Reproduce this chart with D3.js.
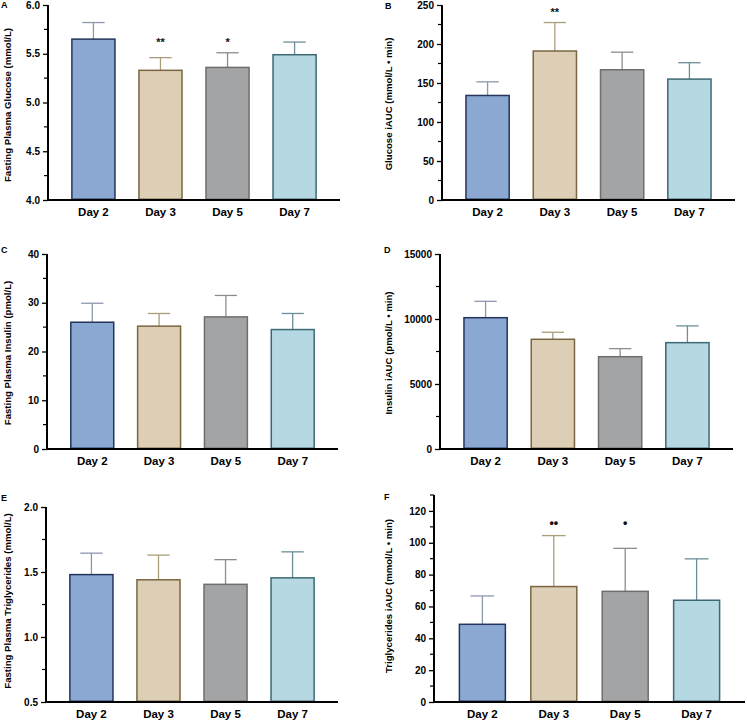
<!DOCTYPE html>
<html><head><meta charset="utf-8">
<script src="https://cdn.jsdelivr.net/npm/d3@7"></script>
<style>body{margin:0;background:#fff}svg{display:block}text{font-family:"Liberation Sans",Arial,sans-serif;font-weight:bold}</style>
</head><body>
<svg id="c" width="747" height="721"></svg>
<script>
const categories = ["Day 2", "Day 3", "Day 5", "Day 7"];

const glucoseFasting = [5.65, 5.33, 5.36, 5.49];
const glucoseFastingErr = [0.17, 0.13, 0.15, 0.13];
const glucoseFastingSig = ["", "**", "*", ""];
const glucoseFastingTicks = [4.0, 4.5, 5.0, 5.5, 6.0];

const glucoseIAUC = [134, 191, 167, 155];
const glucoseIAUCErr = [17.5, 36.5, 22.5, 21];
const glucoseIAUCSig = ["", "**", "", ""];
const glucoseIAUCTicks = [0, 50, 100, 150, 200, 250];

const insulinFasting = [26.0, 25.2, 27.1, 24.5];
const insulinFastingErr = [3.9, 2.6, 4.4, 3.3];
const insulinFastingTicks = [0, 10, 20, 30, 40];

const insulinIAUC = [10100, 8440, 7100, 8180];
const insulinIAUCErr = [1260, 540, 620, 1290];
const insulinIAUCTicks = [0, 5000, 10000, 15000];

const tgFasting = [1.48, 1.44, 1.405, 1.455];
const tgFastingErr = [0.165, 0.19, 0.19, 0.2];
const tgFastingTicks = [0.5, 1.0, 1.5, 2.0];

const tgIAUC = [48.8, 72.5, 69.5, 63.9];
const tgIAUCErr = [17.8, 32, 27, 26];
const tgIAUCSig = ["", "••", "•", ""];
const tgIAUCTicks = [0, 20, 40, 60, 80, 100, 120];

const fills = ["#8ba8d3", "#dccfb6", "#a3a4a6", "#b5d8e2"];
const strokes = ["#23355a", "#7b6542", "#6e6e6e", "#3d6975"];
const errColors = ["#8e97ad", "#ab9d7c", "#8d8d8d", "#6b8f99"];

const svg = d3.select("#c");

function panel(o) {
  const g = svg.append("g");
  const x = d3.scaleBand().domain(categories).range([o.left, o.right]).paddingInner(0.335).paddingOuter(0.345);
  const y = d3.scaleLinear().domain(o.domain).range([o.bottom, o.top]);
  const data = categories.map((c, i) => ({c, i, v: o.values[i], e: o.errs[i], s: o.sig ? o.sig[i] : ""}));

  // error bars (upper only)
  const capW = x.bandwidth() * 0.5;
  const eb = g.selectAll(".eb").data(data).join("g");
  eb.append("line").attr("x1", d => x(d.c) + x.bandwidth()/2).attr("x2", d => x(d.c) + x.bandwidth()/2)
    .attr("y1", d => y(d.v)).attr("y2", d => y(d.v + d.e))
    .attr("stroke", d => errColors[d.i]).attr("stroke-width", 1.3);
  eb.append("line").attr("x1", d => x(d.c) + x.bandwidth()/2 - capW/2).attr("x2", d => x(d.c) + x.bandwidth()/2 + capW/2)
    .attr("y1", d => y(d.v + d.e)).attr("y2", d => y(d.v + d.e))
    .attr("stroke", d => errColors[d.i]).attr("stroke-width", 1.3);

  // bars
  g.selectAll(".bar").data(data).join("rect")
    .attr("x", d => x(d.c) + 0.75).attr("width", x.bandwidth() - 1.5)
    .attr("y", d => y(d.v)).attr("height", d => o.bottom - y(d.v) - 0.75)
    .attr("fill", d => fills[d.i]).attr("stroke", d => strokes[d.i]).attr("stroke-width", 1.5);

  // significance marks
  const sigd = data.filter(d => d.s);
  if (sigd.length) {
    const yTop = d3.min(sigd, d => y(d.v + d.e)) - 13;
    g.selectAll(".sig").data(sigd).join("text")
      .attr("x", d => x(d.c) + x.bandwidth()/2)
      .attr("y", d => d.s.includes("*") ? yTop + 6.5 : yTop + 4.5)
      .attr("text-anchor", "middle").attr("font-size", d => d.s.includes("*") ? 11 : 12.5)
      .attr("fill", "#111").text(d => d.s);
  }

  // y axis
  const majors = o.ticks;
  const step = majors[1] - majors[0];
  const minors = [];
  for (let i = 0; i < majors.length - 1; i++) minors.push(majors[i] + step / 2);
  if (o.domain[1] > majors[majors.length - 1]) minors.push(majors[majors.length - 1] + step / 2);
  const ya = g.append("g").attr("transform", `translate(${o.left},0)`)
    .call(d3.axisLeft(y).tickValues(majors).tickFormat(o.fmt).tickSize(5).tickPadding(3));
  ya.select(".domain").remove();
  ya.selectAll(".tick line").attr("stroke", "#000").attr("stroke-width", 1.3);
  ya.selectAll(".tick text").attr("font-size", 10).attr("fill", "#000").attr("font-family", "Liberation Sans, Arial, sans-serif").attr("font-weight", "bold");
  g.append("g").selectAll("line").data(minors).join("line")
    .attr("x1", o.left - 4).attr("x2", o.left).attr("y1", d => y(d)).attr("y2", d => y(d))
    .attr("stroke", "#000").attr("stroke-width", 1.2);
  g.append("line").attr("x1", o.left).attr("x2", o.left).attr("y1", y(o.domain[1])).attr("y2", o.bottom + 1)
    .attr("stroke", "#000").attr("stroke-width", 2);

  // x axis
  g.append("line").attr("x1", o.left - 1).attr("x2", o.right).attr("y1", o.bottom).attr("y2", o.bottom)
    .attr("stroke", "#000").attr("stroke-width", 2);
  g.selectAll(".xl").data(categories).join("text")
    .attr("x", d => x(d) + x.bandwidth()/2).attr("y", o.bottom + 16)
    .attr("text-anchor", "middle").attr("font-size", 11.5).attr("fill", "#000").text(d => d);

  // y title
  g.append("text").attr("transform", `translate(${o.titleX},${o.titleY}) rotate(-90)`)
    .attr("text-anchor", "middle").attr("dominant-baseline", "central")
    .attr("font-size", 9.6).attr("fill", "#000").text(o.title);

  // panel letter
  g.append("text").attr("x", o.letterX).attr("y", o.letterY).attr("font-size", 9).attr("fill", "#000").text(o.letter);
}

const f1 = d3.format(".1f"), f0 = d3.format("d");

panel({letter: "A", letterX: 1, letterY: 8, left: 48, right: 340, top: 5, bottom: 200, domain: [4, 6],
  values: glucoseFasting, errs: glucoseFastingErr, sig: glucoseFastingSig, ticks: glucoseFastingTicks, fmt: f1,
  title: "Fasting Plasma Glucose (mmol/L)", titleX: 7, titleY: 105});
panel({letter: "B", letterX: 385, letterY: 9, left: 442, right: 735, top: 5, bottom: 200, domain: [0, 250],
  values: glucoseIAUC, errs: glucoseIAUCErr, sig: glucoseIAUCSig, ticks: glucoseIAUCTicks, fmt: f0,
  title: "Glucose iAUC (mmol/L • min)", titleX: 388, titleY: 104});
panel({letter: "C", letterX: 1, letterY: 253, left: 47, right: 338, top: 254, bottom: 449, domain: [0, 40],
  values: insulinFasting, errs: insulinFastingErr, ticks: insulinFastingTicks, fmt: f0,
  title: "Fasting Plasma Insulin (pmol/L)", titleX: 7, titleY: 353});
panel({letter: "D", letterX: 384, letterY: 253, left: 440, right: 733, top: 254, bottom: 449, domain: [0, 15000],
  values: insulinIAUC, errs: insulinIAUCErr, ticks: insulinIAUCTicks, fmt: f0,
  title: "Insulin iAUC (pmol/L • min)", titleX: 388, titleY: 353});
panel({letter: "E", letterX: 1, letterY: 501, left: 46, right: 338, top: 507, bottom: 702, domain: [0.5, 2.0],
  values: tgFasting, errs: tgFastingErr, ticks: tgFastingTicks, fmt: f1,
  title: "Fasting Plasma Triglycerides (mmol/L)", titleX: 7, titleY: 601});
panel({letter: "F", letterX: 384, letterY: 500, left: 434, right: 745, top: 495, bottom: 702, domain: [0, 130],
  values: tgIAUC, errs: tgIAUCErr, sig: tgIAUCSig, ticks: tgIAUCTicks, fmt: f0,
  title: "Triglycerides iAUC (mmol/L • min)", titleX: 388, titleY: 596});
</script>
</body></html>
